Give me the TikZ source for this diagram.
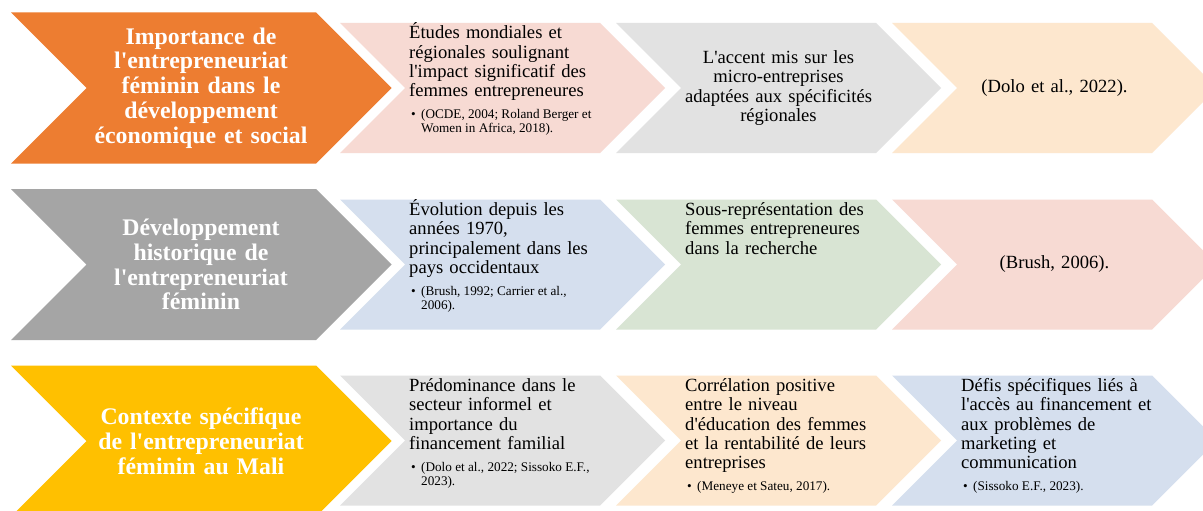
\documentclass[tikz,border=0pt]{standalone}
\usepackage{fontspec}
\newfontfamily\tnr{Liberation Serif}
\definecolor{cOrange}{HTML}{ED7D31}
\definecolor{cGray}{HTML}{A5A5A5}
\definecolor{cYellow}{HTML}{FFC000}
\definecolor{cPink}{HTML}{F7DAD3}
\definecolor{cLGray}{HTML}{E2E2E2}
\definecolor{cPeach}{HTML}{FDE7CE}
\definecolor{cBlue}{HTML}{D5DFEE}
\definecolor{cGreen}{HTML}{D8E4D3}
\newcommand{\chev}[5]{%
  \fill[#5] (#1,#2-#3) -- (#1+#4,#2-#3) -- (#1+#4+#3,#2) -- (#1+#4,#2+#3) -- (#1,#2+#3) -- (#1+#3,#2) -- cycle;}
\newcommand{\refnote}[1]{\par\vspace{8.3pt}{\fontsize{13.2}{13.7}\selectfont\leftskip=12pt\rightskip=0pt plus 1fil\spaceskip=0pt\noindent\llap{\makebox[10pt][l]{•}}#1\par}}
\tikzset{
  bigtext/.style={font=\tnr\bfseries\fontsize{23.8}{24.8}\selectfont, text=white, align=center, text width=240pt, inner sep=0pt, anchor=center},
  bodytext/.style={font=\tnr\fontsize{18.6}{19.3}\selectfont, text=black, text width=250pt, inner sep=0pt, anchor=base west},
  midtext/.style={font=\tnr\fontsize{18.6}{19.3}\selectfont, text=black, align=center, text width=200pt, inner sep=0pt, anchor=center}
}
\begin{document}
\begin{tikzpicture}[x=1pt,y=-1pt]
\useasboundingbox (0,0) rectangle (1203,511);
\fill[white] (0,0) rectangle (1203,511);
\clip (0,0) rectangle (1203,511);
% row 1
\chev{11}{88}{75.5}{305}{cOrange}
\chev{340}{88}{65}{260}{cPink}
\chev{616}{88}{65}{260}{cLGray}
\chev{892}{88}{65}{260}{cPeach}
% row 2
\chev{11}{264.5}{75.5}{305}{cGray}
\chev{340}{264.5}{65}{260}{cBlue}
\chev{616}{264.5}{65}{260}{cGreen}
\chev{892}{264.5}{65}{260}{cPink}
% row 3
\chev{11}{441}{75.5}{305}{cYellow}
\chev{340}{440.5}{65}{260}{cLGray}
\chev{616}{440.5}{65}{260}{cPeach}
\chev{892}{440.5}{65}{260}{cBlue}
% texts row 1
\node[bigtext] (t1) at (201,88) {Importance de\\l'entrepreneuriat\\féminin dans le\\développement\\économique et social};
\node[bodytext] (b11) at (409,39) {Études mondiales et\\régionales soulignant\\l'impact significatif des\\femmes entrepreneures\refnote{(OCDE, 2004; Roland Berger et\\Women in Africa, 2018).}};
\node[midtext] (b12) at (778.5,88) {L'accent mis sur les\\micro-entreprises\\adaptées aux spécificités\\régionales};
\node[midtext] (b13) at (1054.5,88) {(Dolo et al., 2022).};
% texts row 2
\node[bigtext] (t2) at (201,264.5) {Développement\\historique de\\l'entrepreneuriat\\féminin};
\node[bodytext] (b21) at (409,215.5) {Évolution depuis les\\années 1970,\\principalement dans les\\pays occidentaux\refnote{(Brush, 1992; Carrier et al.,\\2006).}};
\node[bodytext] (b22) at (685,215.5) {Sous-représentation des\\femmes entrepreneures\\dans la recherche};
\node[midtext] (b23) at (1054.5,264.5) {(Brush, 2006).};
% texts row 3
\node[bigtext] (t3) at (201,441) {Contexte spécifique\\de l'entrepreneuriat\\féminin au Mali};
\node[bodytext] (b31) at (409,391.5) {Prédominance dans le\\secteur informel et\\importance du\\financement familial\refnote{(Dolo et al., 2022; Sissoko E.F.,\\2023).}};
\node[bodytext] (b32) at (685,391.5) {Corrélation positive\\entre le niveau\\d'éducation des femmes\\et la rentabilité de leurs\\entreprises\refnote{(Meneye et Sateu, 2017).}};
\node[bodytext] (b33) at (961,391.5) {Défis spécifiques liés à\\l'accès au financement et\\aux problèmes de\\marketing et\\communication\refnote{(Sissoko E.F., 2023).}};
\end{tikzpicture}
\end{document}
